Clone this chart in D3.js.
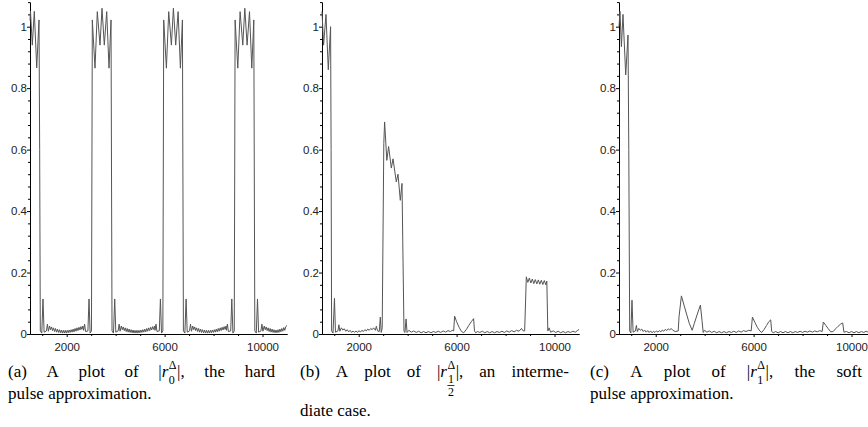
<!DOCTYPE html>
<html>
<head>
<meta charset="utf-8">
<script src="https://cdn.jsdelivr.net/npm/d3@7"></script>
<style>
body { margin: 0; background: #fff; }
svg text { font-family: "Liberation Sans", Arial, sans-serif; }
.cap text { font-family: "Liberation Serif", "Times New Roman", serif; fill: #000; }
</style>
</head>
<body>
<svg id="fig" width="868" height="427"></svg>
<script>
// Axis domain and ticks
var xDomain = [500, 11000];
var xMajor = [2000, 6000, 10000];
var xMinor = [1000, 3000, 4000, 5000, 7000, 8000, 9000];
var yMajor = [0, 0.2, 0.4, 0.6, 0.8, 1];
var yMinor = [0.04, 0.08, 0.12, 0.16, 0.24, 0.28, 0.32, 0.36, 0.44, 0.48, 0.52, 0.56,
	0.64, 0.68, 0.72, 0.76, 0.84, 0.88, 0.92, 0.96, 1.04, 1.08];

// (a) hard pulse, |r_0|
var hardPts = [
	[500, 1.02], [520, 1.05], [594, 0.94], [676, 1.05], [774, 0.866], [868, 1.022], [895, 0.6], [921, 0.01],
	[981, 0.003], [1031, 0.114], [1076, 0.006], [1171, 0.01], [1211, 0.032], [1251, 0.009],
	[1300, 0.026], [1340, 0.014], [1380, 0.023], [1420, 0.011], [1460, 0.02], [1500, 0.008], [1540, 0.018],
	[1580, 0.006], [1620, 0.016], [1660, 0.005], [1700, 0.014], [1740, 0.004], [1780, 0.013], [1820, 0.003],
	[1860, 0.012], [1900, 0.003], [1940, 0.012], [1980, 0.003], [2020, 0.012], [2060, 0.004], [2100, 0.013],
	[2140, 0.005], [2180, 0.014], [2220, 0.006], [2260, 0.016], [2300, 0.007], [2340, 0.018], [2380, 0.009],
	[2420, 0.02], [2460, 0.011], [2500, 0.022], [2540, 0.013], [2580, 0.024], [2620, 0.015], [2660, 0.026], [2691, 0.012],
	[2731, 0.032], [2771, 0.008], [2866, 0.01], [2911, 0.114], [2956, 0.003], [3011, 0.01],
	[3046, 1.022], [3156, 0.865], [3250, 1.049], [3360, 0.94], [3442, 1.06], [3536, 0.94], [3634, 1.049],
	[3728, 0.865], [3810, 1.022], [3851, 0.01],
	[3911, 0.003], [3961, 0.114], [4006, 0.006], [4101, 0.01], [4141, 0.032], [4181, 0.009],
	[4230, 0.026], [4270, 0.014], [4310, 0.023], [4350, 0.011], [4390, 0.02], [4430, 0.008], [4470, 0.018],
	[4510, 0.006], [4550, 0.016], [4590, 0.005], [4630, 0.014], [4670, 0.004], [4710, 0.013], [4750, 0.003],
	[4790, 0.012], [4830, 0.003], [4870, 0.012], [4910, 0.003], [4950, 0.012], [4990, 0.004], [5030, 0.013],
	[5070, 0.005], [5110, 0.014], [5150, 0.006], [5190, 0.016], [5230, 0.007], [5270, 0.018], [5310, 0.009],
	[5350, 0.02], [5390, 0.011], [5430, 0.022], [5470, 0.013], [5510, 0.024], [5550, 0.015], [5590, 0.026], [5608, 0.012],
	[5648, 0.032], [5688, 0.008], [5783, 0.01], [5828, 0.114], [5873, 0.003], [5928, 0.01],
	[5963, 1.022], [6073, 0.865], [6167, 1.049], [6277, 0.94], [6359, 1.06], [6453, 0.94], [6551, 1.049],
	[6645, 0.865], [6727, 1.022], [6768, 0.01],
	[6828, 0.003], [6878, 0.114], [6923, 0.006], [7018, 0.01], [7058, 0.032], [7098, 0.009],
	[7150, 0.026], [7190, 0.014], [7230, 0.023], [7270, 0.011], [7310, 0.02], [7350, 0.008], [7390, 0.018],
	[7430, 0.006], [7470, 0.016], [7510, 0.005], [7550, 0.014], [7590, 0.004], [7630, 0.013], [7670, 0.003],
	[7710, 0.012], [7750, 0.003], [7790, 0.012], [7830, 0.003], [7870, 0.012], [7910, 0.004], [7950, 0.013],
	[7990, 0.005], [8030, 0.014], [8070, 0.006], [8110, 0.016], [8150, 0.007], [8190, 0.018], [8230, 0.009],
	[8270, 0.02], [8310, 0.011], [8350, 0.022], [8390, 0.013], [8430, 0.024], [8470, 0.015], [8510, 0.026], [8525, 0.012],
	[8565, 0.032], [8605, 0.008], [8700, 0.01], [8745, 0.114], [8790, 0.003], [8845, 0.01],
	[8880, 1.022], [8990, 0.865], [9084, 1.049], [9194, 0.94], [9276, 1.06], [9370, 0.94], [9468, 1.049],
	[9562, 0.865], [9644, 1.022], [9685, 0.01],
	[9745, 0.003], [9795, 0.114], [9840, 0.006], [9935, 0.01], [9975, 0.032], [10015, 0.009],
	[10070, 0.026], [10110, 0.014], [10150, 0.023], [10190, 0.011], [10230, 0.02], [10270, 0.008], [10310, 0.018],
	[10350, 0.006], [10390, 0.016], [10430, 0.005], [10470, 0.014], [10510, 0.004], [10550, 0.013], [10590, 0.004],
	[10630, 0.014], [10670, 0.005], [10710, 0.016], [10750, 0.007], [10790, 0.018], [10830, 0.009], [10870, 0.021],
	[10910, 0.012], [10950, 0.024], [11000, 0.028]
];

// (b) intermediate case, |r_1/2|
var midPts = [
	[500, 1.05], [565, 0.94], [663, 1.04], [757, 0.86], [851, 1.0], [872, 0.6], [892, 0.01],
	[950, 0.003], [1010, 0.116], [1050, 0.006], [1150, 0.01], [1190, 0.03], [1230, 0.009],
	[1290, 0.02], [1350, 0.013], [1410, 0.017], [1470, 0.009], [1530, 0.014], [1590, 0.007], [1650, 0.012],
	[1710, 0.005], [1770, 0.01], [1830, 0.005], [1890, 0.01], [1950, 0.005], [2010, 0.011], [2070, 0.006],
	[2130, 0.012], [2190, 0.008], [2250, 0.014], [2310, 0.01], [2370, 0.016], [2430, 0.012], [2490, 0.018],
	[2550, 0.014], [2610, 0.02], [2680, 0.012],
	[2720, 0.025], [2770, 0.01], [2840, 0.008], [2882, 0.055], [2920, 0.005], [2960, 0.02],
	[3025, 0.62], [3058, 0.69], [3148, 0.565], [3221, 0.61], [3332, 0.54], [3402, 0.57], [3536, 0.495],
	[3605, 0.52], [3699, 0.435], [3769, 0.49], [3800, 0.3], [3850, 0.008],
	[3890, 0.005], [3935, 0.049], [3975, 0.005],
	[4050, 0.012], [4150, 0.006], [4250, 0.01], [4350, 0.005], [4450, 0.009], [4550, 0.004], [4650, 0.008],
	[4750, 0.004], [4850, 0.008], [4950, 0.004], [5050, 0.008], [5150, 0.005], [5250, 0.009], [5350, 0.005],
	[5450, 0.01], [5550, 0.006], [5650, 0.011], [5750, 0.008], [5820, 0.012],
	[5880, 0.01], [5918, 0.058], [6000, 0.04], [6100, 0.022], [6200, 0.008], [6290, 0.004], [6400, 0.015],
	[6500, 0.028], [6600, 0.04], [6694, 0.05], [6730, 0.01],
	[6780, 0.004], [6850, 0.008], [6950, 0.005], [7050, 0.009], [7150, 0.004], [7250, 0.008], [7350, 0.004],
	[7450, 0.008], [7550, 0.004], [7650, 0.008], [7750, 0.005], [7850, 0.009], [7950, 0.005], [8050, 0.01],
	[8150, 0.006], [8250, 0.011], [8350, 0.007], [8450, 0.012], [8550, 0.009], [8650, 0.018], [8720, 0.01],
	[8780, 0.01], [8848, 0.186], [8909, 0.168], [8970, 0.182], [9032, 0.166], [9093, 0.179], [9154, 0.164],
	[9215, 0.177], [9277, 0.163], [9338, 0.176], [9399, 0.162], [9460, 0.175], [9522, 0.161], [9583, 0.174],
	[9644, 0.16], [9685, 0.172], [9726, 0.01],
	[9780, 0.02], [9840, 0.006], [9950, 0.01], [10050, 0.005], [10150, 0.009], [10250, 0.004], [10350, 0.008],
	[10450, 0.004], [10550, 0.008], [10650, 0.005], [10750, 0.009], [10850, 0.006], [10950, 0.012], [11000, 0.015]
];

// (c) soft pulse, |r_1|
var softPts = [
	[500, 1.0], [540, 1.05], [598, 0.935], [663, 1.04], [774, 0.843], [868, 0.973], [900, 0.6], [937, 0.01],
	[985, 0.003], [1031, 0.11], [1076, 0.006], [1170, 0.01], [1210, 0.028], [1250, 0.008],
	[1310, 0.018], [1370, 0.012], [1430, 0.016], [1490, 0.008], [1550, 0.013], [1610, 0.006], [1670, 0.011],
	[1730, 0.005], [1790, 0.01], [1850, 0.004], [1910, 0.009], [1970, 0.005], [2030, 0.01], [2090, 0.006],
	[2150, 0.011], [2210, 0.007], [2270, 0.013], [2330, 0.009], [2390, 0.015], [2450, 0.011], [2510, 0.017],
	[2570, 0.013], [2630, 0.018], [2700, 0.012],
	[2800, 0.008], [2919, 0.01], [2952, 0.056], [3050, 0.124], [3156, 0.094], [3260, 0.065], [3370, 0.035],
	[3490, 0.012], [3580, 0.035], [3700, 0.065], [3826, 0.094], [3891, 0.045], [3940, 0.005],
	[3990, 0.012], [4090, 0.006], [4190, 0.01], [4290, 0.005], [4390, 0.009], [4490, 0.004], [4590, 0.008],
	[4690, 0.004], [4790, 0.008], [4890, 0.004], [4990, 0.008], [5090, 0.005], [5190, 0.009], [5290, 0.005],
	[5390, 0.01], [5490, 0.006], [5590, 0.011], [5690, 0.008], [5800, 0.012], [5900, 0.01],
	[5951, 0.055], [6050, 0.038], [6150, 0.022], [6250, 0.01], [6330, 0.005], [6430, 0.015], [6530, 0.028],
	[6620, 0.04], [6698, 0.046], [6740, 0.008],
	[6800, 0.004], [6900, 0.008], [7000, 0.004], [7100, 0.008], [7200, 0.004], [7300, 0.008], [7400, 0.004],
	[7500, 0.008], [7600, 0.004], [7700, 0.008], [7800, 0.005], [7900, 0.009], [8000, 0.005], [8100, 0.009],
	[8200, 0.006], [8300, 0.01], [8400, 0.006], [8500, 0.01], [8600, 0.007], [8700, 0.011], [8800, 0.008],
	[8848, 0.039], [8950, 0.028], [9050, 0.017], [9150, 0.007], [9250, 0.008], [9350, 0.017], [9450, 0.025],
	[9550, 0.032], [9640, 0.036], [9690, 0.006],
	[9800, 0.008], [9900, 0.004], [10000, 0.008], [10100, 0.004], [10200, 0.008], [10300, 0.004], [10400, 0.008],
	[10500, 0.005], [10600, 0.009], [10700, 0.005], [10800, 0.009], [10900, 0.006], [11000, 0.01]
];

// Captions: plain words are strings, the math word is a list of pieces
var capA1 = ['(a)', 'A', 'plot', 'of', ['|', {it: 'r'}, {sup: 'Δ', sub: '0'}, '|,'], 'the', 'hard'];
var capA2 = ['pulse', 'approximation.'];
var capB1 = ['(b)', 'A', 'plot', 'of', ['|', {it: 'r'}, {sup: 'Δ', frac: ['1', '2']}, '|,'], 'an', 'interme-'];
var capB2 = ['diate', 'case.'];
var capC1 = ['(c)', 'A', 'plot', 'of', ['|', {it: 'r'}, {sup: 'Δ', sub: '1'}, '|,'], 'the', 'soft'];
var capC2 = ['pulse', 'approximation.'];

var svg = d3.select('#fig');
svg.append('rect').attr('width', 868).attr('height', 427).attr('fill', '#fff');

var y = d3.scaleLinear().domain([0, 1.08]).range([334, 2.1]);
var plotWidth = 257;

function drawPanel(pts, left) {
	var x = d3.scaleLinear().domain(xDomain).range([left, left + plotWidth]);
	var g = svg.append('g');

	// y axis
	g.append('g').attr('class', 'axis')
		.attr('transform', 'translate(' + left + ',0)')
		.call(d3.axisLeft(y).tickValues(yMinor).tickSize(2).tickSizeOuter(0).tickFormat(''));
	g.append('g').attr('class', 'axis')
		.attr('transform', 'translate(' + left + ',0)')
		.call(d3.axisLeft(y).tickValues(yMajor).tickSize(3).tickPadding(0).tickSizeOuter(0)
			.tickFormat(function(d) { return d3.format('~g')(d); }));

	// x axis
	g.append('g').attr('class', 'axis')
		.attr('transform', 'translate(0,' + y(0) + ')')
		.call(d3.axisBottom(x).tickValues(xMinor).tickSize(2).tickSizeOuter(0).tickFormat(''));
	g.append('g').attr('class', 'axis')
		.attr('transform', 'translate(0,' + y(0) + ')')
		.call(d3.axisBottom(x).tickValues(xMajor).tickSize(3).tickPadding(6).tickSizeOuter(0)
			.tickFormat(d3.format('d')));

	g.selectAll('.axis path, .axis line').attr('stroke', '#000').attr('stroke-width', 1);
	g.selectAll('.axis text').attr('fill', '#222').style('font-size', '11.5px');

	// the curve
	g.append('path')
		.datum(pts)
		.attr('fill', 'none')
		.attr('stroke', '#555')
		.attr('stroke-width', 1)
		.attr('d', d3.line().x(function(d) { return x(d[0]); }).y(function(d) { return y(d[1]); }));
}

drawPanel(hardPts, 30);
drawPanel(midPts, 322);
drawPanel(softPts, 619);

// Caption layout
var FS = 17, SS = 12;
function capLine(words, x0, base, width, justify) {
	var g = svg.append('g').attr('class', 'cap');
	var items = words.map(function(w) {
		var wg = g.append('g'), cx = 0;
		var parts = (typeof w === 'string') ? [w] : w;
		parts.forEach(function(p) {
			if (typeof p === 'string') {
				var t = wg.append('text').attr('x', cx).attr('y', 0).style('font-size', FS + 'px').text(p);
				cx += t.node().getComputedTextLength();
			} else if (p.it) {
				var t = wg.append('text').attr('x', cx).attr('y', 0).style('font-size', FS + 'px')
					.style('font-style', 'italic').text(p.it);
				cx += t.node().getComputedTextLength() + 0.5;
			} else {
				var a = wg.append('text').attr('x', cx).attr('y', -8).style('font-size', SS + 'px').text(p.sup);
				var wa = a.node().getComputedTextLength();
				if (p.sub) {
					var b = wg.append('text').attr('x', cx).attr('y', 6.5).style('font-size', SS + 'px').text(p.sub);
					cx += Math.max(wa, b.node().getComputedTextLength()) + 0.5;
				} else {
					var n = wg.append('text').attr('x', cx + 0.5).attr('y', 6).style('font-size', SS + 'px').text(p.frac[0]);
					var dd = wg.append('text').attr('x', cx + 0.5).attr('y', 19).style('font-size', SS + 'px').text(p.frac[1]);
					var wf = Math.max(n.node().getComputedTextLength(), dd.node().getComputedTextLength()) + 1;
					wg.append('line').attr('x1', cx).attr('x2', cx + wf).attr('y1', 8.5).attr('y2', 8.5)
						.attr('stroke', '#000').attr('stroke-width', 0.8);
					cx += Math.max(wa, wf) + 0.5;
				}
			}
		});
		return {g: wg, w: cx};
	});
	var gap = justify ? (width - d3.sum(items, function(d) { return d.w; })) / (items.length - 1) : FS * 0.25;
	var cx = x0;
	items.forEach(function(it) {
		it.g.attr('transform', 'translate(' + cx + ',' + base + ')');
		cx += it.w + gap;
	});
}

capLine(capA1, 8, 377, 267, true);
capLine(capA2, 8, 399, 267, false);
capLine(capB1, 300, 377, 269, true);
capLine(capB2, 300, 416, 269, false);
capLine(capC1, 590, 377, 272, true);
capLine(capC2, 590, 399, 272, false);
</script>
</body>
</html>
